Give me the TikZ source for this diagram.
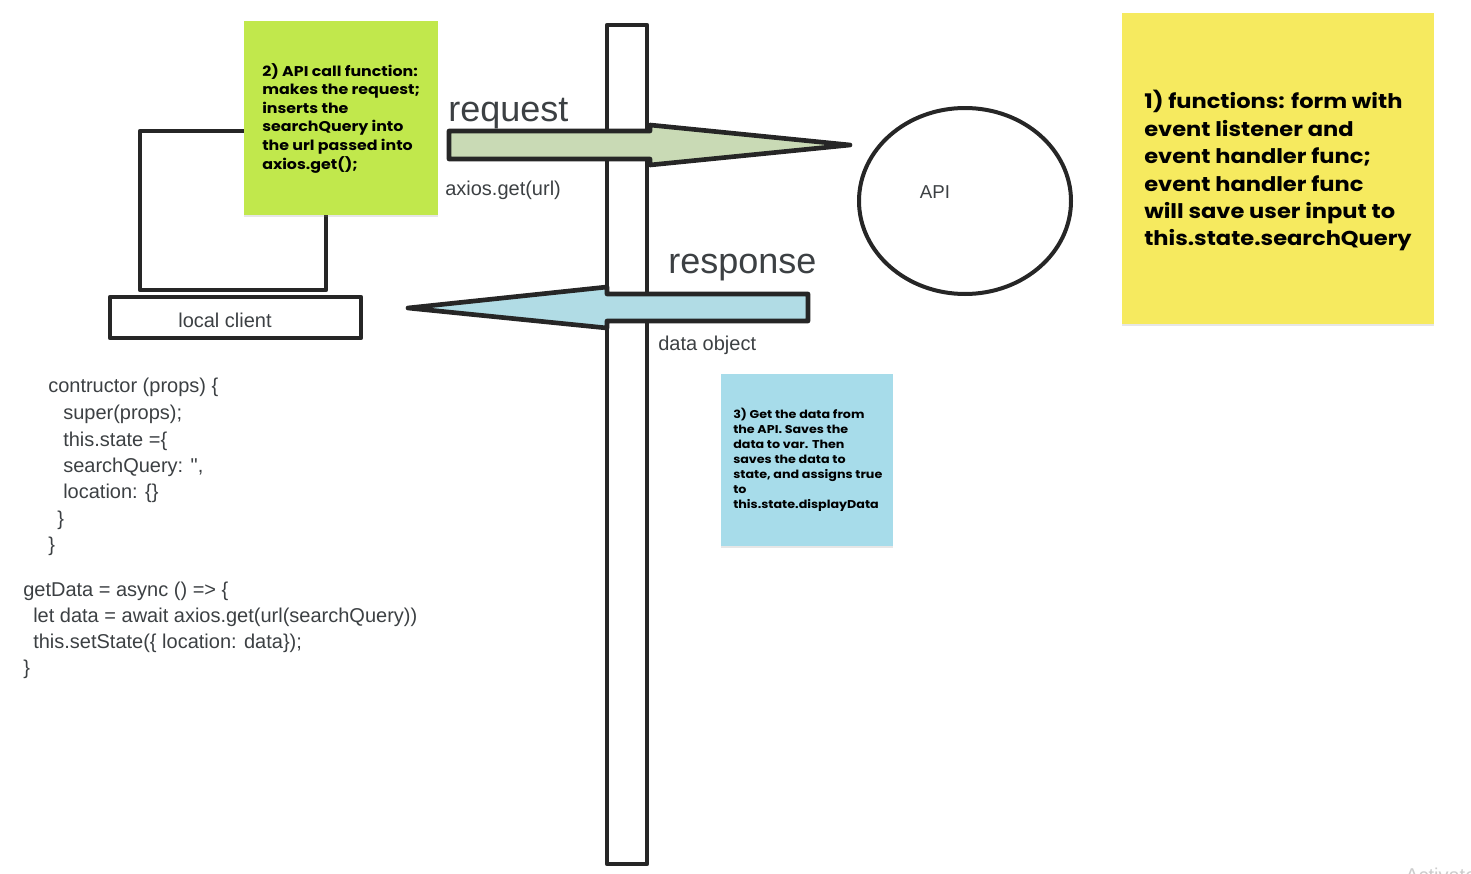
\documentclass[tikz,border=0pt]{standalone}
\usepackage{fontspec}
\setmainfont{Liberation Sans}
\newfontfamily\notefont{Poppins}[FakeStretch=1.12]
\usepackage{tikz}
\usetikzlibrary{shadows}

\definecolor{inkgray}{HTML}{262626}
\definecolor{textgray}{HTML}{3C4043}
\definecolor{notegreen}{HTML}{C1E84C}
\definecolor{noteyellow}{HTML}{F6EA5F}
\definecolor{noteblue}{HTML}{A7DCEA}
\definecolor{reqgreen}{HTML}{C9DAB5}
\definecolor{respblue}{HTML}{B1DCE5}

\tikzset{
  outline/.style={draw=inkgray, line width=3.5pt, line join=round},
  sticky/.style={drop shadow={shadow xshift=0pt, shadow yshift=-1.2pt, opacity=0.2}},
  notetext/.style={anchor=north west, inner sep=0pt, align=left, text=black},
  plaintext/.style={anchor=base west, inner sep=0pt, text=textgray},
  codeline/.style={anchor=base west, inner sep=0pt, text=textgray, font=\fontsize{15}{18}\selectfont}
}

\begin{document}
\begin{tikzpicture}[x=0.75pt, y=-0.75pt]
\useasboundingbox (0,0) rectangle (1471,874);

% Timeline bar
\draw[outline, fill=white] (607,25) rectangle (647,864);

% Local client
\draw[outline] (140,131) rectangle (326,290);
\draw[outline] (110,297) rectangle (361,338);
\node[plaintext, anchor=base, font=\fontsize{15}{18}\selectfont] (client) at (225,327) {local client};

% Sticky note 2
\fill[notegreen, sticky] (244,21) rectangle (438,215);
\node[notetext, font=\notefont\bfseries\fontsize{10.6}{13.95}\selectfont] (apicall) at (262,63)
  {2) API call function:\\ makes the request;\\ inserts the\\ searchQuery into\\ the url passed into\\ axios.get();};

% Request arrow
\draw[outline, fill=reqgreen] (449,131) -- (650,131) -- (650,125) -- (850,145)
  -- (650,165) -- (650,159) -- (449,159) -- cycle;
\node[plaintext, font=\fontsize{27}{32}\selectfont] (request) at (448,122) {request};
\node[plaintext, font=\fontsize{15}{18}\selectfont] (axios) at (445,195) {axios.get(url)};

% Response arrow
\draw[outline, fill=respblue] (808,294) -- (607,294) -- (607,287) -- (408,308)
  -- (607,328) -- (607,321) -- (808,321) -- cycle;
\node[plaintext, font=\fontsize{27}{32}\selectfont] (response) at (668,273) {response};
\node[plaintext, font=\fontsize{15}{18}\selectfont] (dataobj) at (658,350) {data object};

% API
\draw[outline, line width=3pt] (965,201) ellipse (106 and 93);
\node[plaintext, anchor=base, font=\fontsize{14}{17}\selectfont] (api) at (935,198) {API};

% Sticky note 1
\fill[noteyellow, sticky] (1122,13) rectangle (1434,324);
\node[notetext, font=\notefont\bfseries\fontsize{15.1}{20.6}\selectfont] (functions) at (1144,90)
  {1) functions: form with\\ event listener and\\ event handler func;\\ event handler func\\ will save user input to\\ this.state.searchQuery};

% Sticky note 3
\fill[noteblue, sticky] (721,374) rectangle (893,546);
\node[notetext, font=\notefont\bfseries\fontsize{8.5}{11.25}\selectfont] (getdata) at (733,408)
  {3) Get the data from\\ the API. Saves the\\ data to var. Then\\ saves the data to\\ state, and assigns true\\ to\\ this.state.displayData};

% Code
\foreach \y/\x/\txt [count=\i] in {392/48/{contructor (props) \{}, 419/63/{super(props);},
    446/63/{this.state =\{}, 472/63/{searchQuery: \textquotedbl,}, 498/63/{location: \{\}},
    525/57/{\}}, 551/48/{\}}, 596/23/{getData = async () => \{},
    622/33/{let data = await axios.get(url(searchQuery))},
    648/33/{this.setState(\{ location: data\});}, 674/23/{\}}}
  \node[codeline] (code\i) at (\x,\y) {\txt};

% Watermark
\node[plaintext, text=gray!40, font=\fontsize{15}{18}\selectfont] (watermark) at (1405,882) {Activate};
\end{tikzpicture}
\end{document}
